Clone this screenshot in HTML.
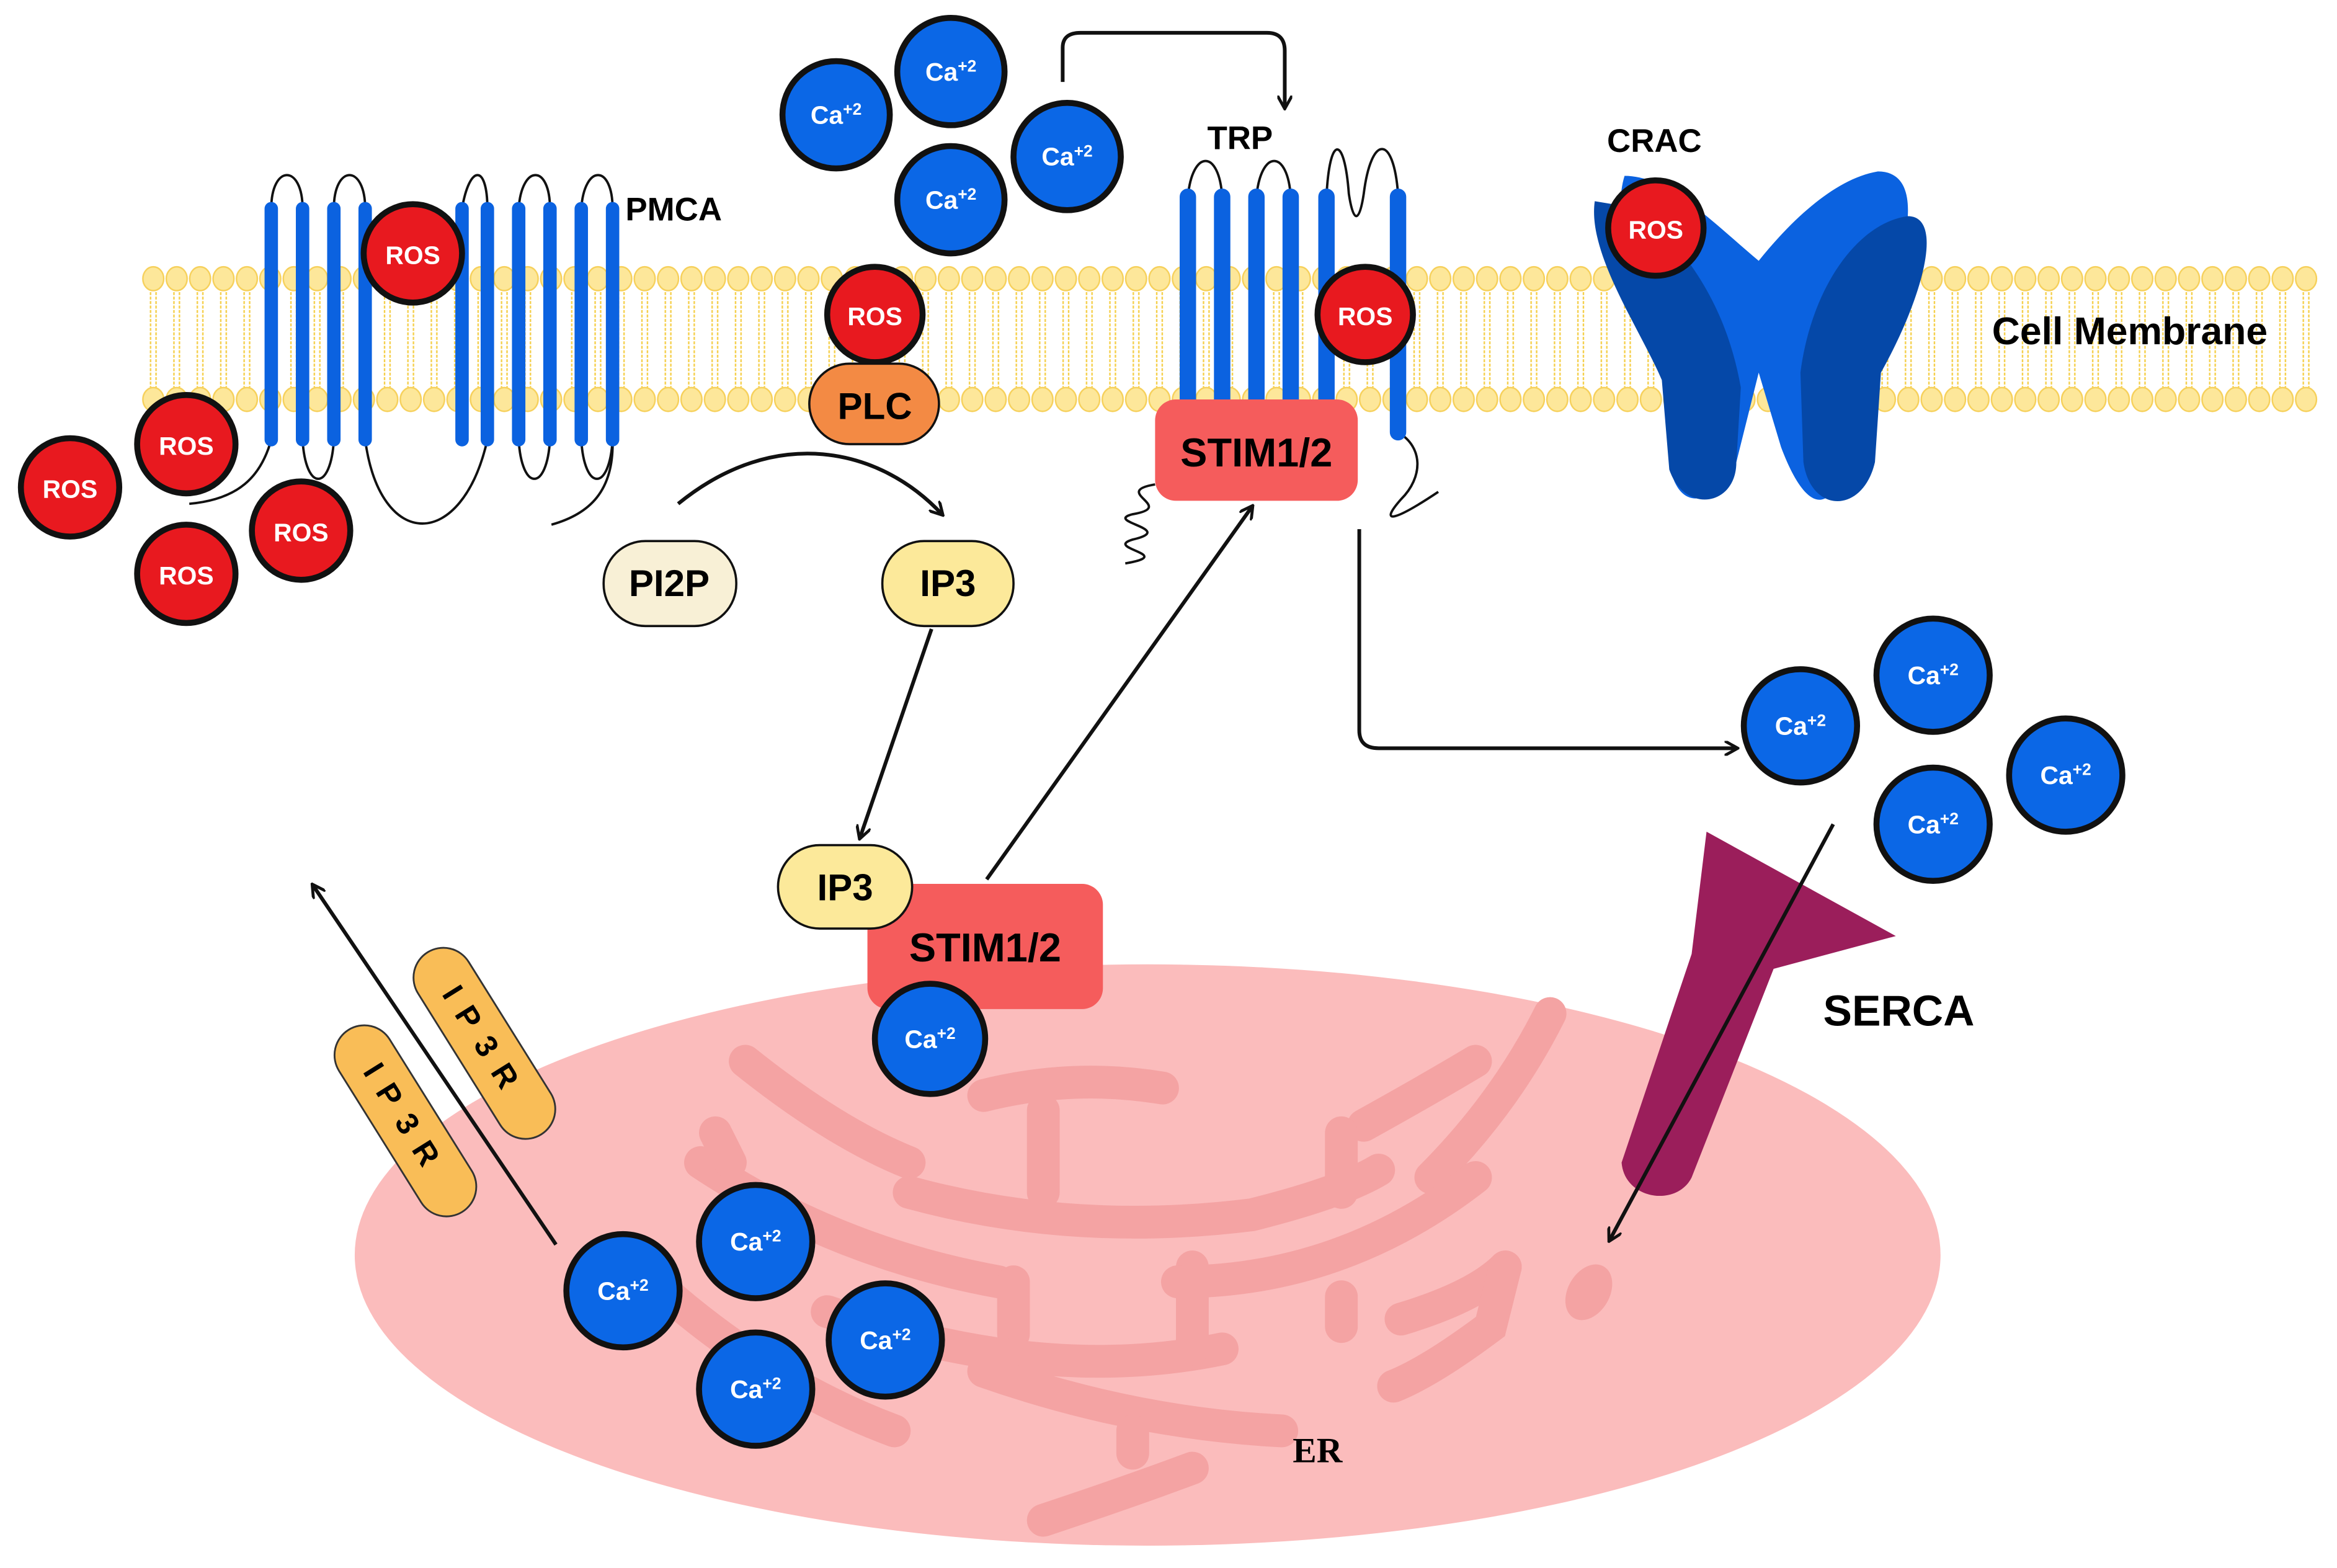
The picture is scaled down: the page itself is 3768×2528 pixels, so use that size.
<!DOCTYPE html>
<html><head><meta charset="utf-8"><style>
html,body{margin:0;padding:0;background:#fff;width:3768px;height:2528px;overflow:hidden}
svg{display:block}
text{font-family:"Liberation Sans",sans-serif;font-weight:bold}
</style></head><body>
<svg width="3768" height="2528" viewBox="0 0 1568 1052" xmlns="http://www.w3.org/2000/svg">
<defs>
<pattern id="mem" x="95" y="175" width="15.7" height="105" patternUnits="userSpaceOnUse">
<line x1="6" y1="18" x2="6" y2="86" stroke="#f5cf4a" stroke-width="1" stroke-dasharray="2 1"/>
<line x1="9.7" y1="18" x2="9.7" y2="86" stroke="#f5cf4a" stroke-width="1" stroke-dasharray="2 1"/>
<ellipse cx="7.85" cy="12" rx="7" ry="8" fill="#fde79a" stroke="#f6d05a" stroke-width="1"/>
<ellipse cx="7.85" cy="93" rx="7" ry="8" fill="#fde79a" stroke="#f6d05a" stroke-width="1"/>
</pattern>
<marker id="ah" markerWidth="10" markerHeight="10" refX="8" refY="5" orient="auto" markerUnits="userSpaceOnUse"><path d="M0,0 L9,5 L0,10" fill="none" stroke="#111" stroke-width="2"/></marker>
</defs>
<rect width="1568" height="1052" fill="#fff"/>
<rect x="95" y="175" width="1460" height="105" fill="url(#mem)"/>

<!-- ER -->
<ellipse cx="770" cy="842" rx="532" ry="195" fill="#fbbcbc"/>
<g stroke="#f4a3a3" stroke-linecap="round" fill="none" stroke-width="22">
<path d="M500,712 Q560,760 610,780"/>
<path d="M660,735 Q720,720 780,730"/>
<path d="M700,745 L700,800"/>
<path d="M610,800 Q720,830 840,815 Q900,800 925,785"/>
<path d="M915,755 Q960,730 990,712"/>
<path d="M900,760 L900,800"/>
<path d="M1040,680 Q1010,740 960,790"/>
<path d="M470,780 Q560,840 670,860"/>
<path d="M680,860 L680,895"/>
<path d="M555,880 Q700,930 820,905"/>
<path d="M800,850 L800,905"/>
<path d="M790,860 Q900,860 990,790"/>
<path d="M900,890 L900,870"/>
<path d="M940,885 Q990,870 1010,850"/>
<path d="M1010,850 L1000,890 Q960,920 935,930"/>
<path d="M660,920 Q760,955 860,960"/>
<path d="M760,960 L760,975"/>
<path d="M700,1020 Q760,1000 800,985"/>
<path d="M450,870 Q520,930 600,960"/>
<path d="M480,760 L490,780"/>
</g>
<ellipse cx="1066" cy="867" rx="14" ry="20" transform="rotate(30 1066 867)" fill="#f4a3a3"/>
<text x="884" y="981" font-size="24" text-anchor="middle" style="font-family:'Liberation Serif',serif">ER</text>

<!-- PMCA loops -->
<g fill="none" stroke="#111" stroke-width="1.6">
<path d="M182,140 C182,110 203,110 203,140"/>
<path d="M224,140 C224,110 245,110 245,140"/>
<path d="M310,140 C315,110 327,110 327,140"/>
<path d="M348,140 C350,110 369,110 369,140"/>
<path d="M390,140 C392,110 411,110 411,140"/>
<path d="M203,295 C205,330 222,330 224,295"/>
<path d="M245,295 C255,370 310,370 327,295"/>
<path d="M348,295 C350,330 367,330 369,295"/>
<path d="M390,295 C392,330 409,330 411,295"/>
<path d="M182,295 C175,320 160,335 127,338"/>
<path d="M411,295 C412,330 395,345 370,352"/>
</g>
<g stroke="#0b62e0" stroke-width="9" stroke-linecap="round">
<line x1="182" y1="140" x2="182" y2="295"/><line x1="203" y1="140" x2="203" y2="295"/>
<line x1="224" y1="140" x2="224" y2="295"/><line x1="245" y1="140" x2="245" y2="295"/>
<line x1="310" y1="140" x2="310" y2="295"/>
<line x1="327" y1="140" x2="327" y2="295"/><line x1="348" y1="140" x2="348" y2="295"/>
<line x1="369" y1="140" x2="369" y2="295"/><line x1="390" y1="140" x2="390" y2="295"/>
<line x1="411" y1="140" x2="411" y2="295"/>
</g>
<text x="452" y="148" font-size="22" text-anchor="middle">PMCA</text>

<!-- TRP -->
<g fill="none" stroke="#111" stroke-width="1.6">
<path d="M797,132 C800,100 818,100 820,132"/>
<path d="M843,132 C846,100 864,100 866,132"/>
<path d="M890,132 C892,90 902,90 905,130 C908,150 912,150 915,130 C920,90 935,90 938,130"/>
<path d="M938,290 C955,300 955,320 940,335 C925,352 935,350 965,330"/>
<path d="M775,325 C745,330 790,340 760,345 C740,350 790,355 760,362 C740,368 790,372 755,378"/>
</g>
<g stroke="#0b62e0" stroke-width="11" stroke-linecap="round">
<line x1="797" y1="132" x2="797" y2="285"/><line x1="820" y1="132" x2="820" y2="285"/>
<line x1="843" y1="132" x2="843" y2="285"/><line x1="866" y1="132" x2="866" y2="285"/>
<line x1="890" y1="132" x2="890" y2="285"/><line x1="938" y1="132" x2="938" y2="290"/>
</g>
<text x="832" y="100" font-size="22" text-anchor="middle">TRP</text>

<!-- CRAC -->
<path d="M1090,118 C1120,118 1150,150 1180,175 C1200,150 1230,120 1260,115 C1290,115 1282,160 1265,200 L1240,245 L1235,320 C1225,345 1210,340 1195,300 L1180,250 L1165,310 C1150,340 1125,345 1120,310 L1118,250 C1100,200 1080,150 1090,118Z" fill="#0b62e0"/>
<path d="M1070,135 C1065,170 1100,220 1115,255 L1120,315 C1130,345 1165,340 1165,310 L1168,260 C1160,215 1140,175 1100,140 Z" fill="#0548a8"/>
<path d="M1280,145 C1305,145 1290,200 1262,250 L1258,310 C1250,345 1215,345 1210,310 L1208,250 C1215,195 1245,150 1280,145Z" fill="#0548a8"/>
<text x="1110" y="102" font-size="22" text-anchor="middle">CRAC</text>

<rect x="775" y="268" width="136" height="68" rx="14" fill="#f55c5c"/>
<text x="843" y="313" font-size="27" text-anchor="middle">STIM1/2</text>

<!-- ROS -->
<g stroke="#111" stroke-width="4" fill="#e8191f">
<circle cx="277" cy="170" r="33"/><circle cx="587" cy="211" r="32"/>
<circle cx="916" cy="211" r="32"/><circle cx="1111" cy="153" r="32"/>
<circle cx="125" cy="298" r="33"/><circle cx="47" cy="327" r="33"/>
<circle cx="202" cy="356" r="33"/><circle cx="125" cy="385" r="33"/>
</g>
<g fill="#fff" font-size="17" text-anchor="middle">
<text x="277" y="177">ROS</text><text x="587" y="218">ROS</text>
<text x="916" y="218">ROS</text><text x="1111" y="160">ROS</text>
<text x="125" y="305">ROS</text><text x="47" y="334">ROS</text>
<text x="202" y="363">ROS</text><text x="125" y="392">ROS</text>
</g>

<rect x="543" y="244" width="87" height="54" rx="27" fill="#f38a44" stroke="#111" stroke-width="1.5"/>
<text x="587" y="281" font-size="25" text-anchor="middle">PLC</text>
<text x="1429" y="231" font-size="26" text-anchor="middle">Cell Membrane</text>

<rect x="405" y="363" width="89" height="57" rx="28" fill="#f8f0d6" stroke="#111" stroke-width="1.5"/>
<text x="449" y="400" font-size="25" text-anchor="middle">PI2P</text>
<rect x="592" y="363" width="88" height="57" rx="28" fill="#fce99a" stroke="#111" stroke-width="1.5"/>
<text x="636" y="400" font-size="25" text-anchor="middle">IP3</text>

<g fill="none" stroke="#111" stroke-width="2.5" marker-end="url(#ah)">
<path d="M455,338 C520,285 590,300 632,345"/>
<path d="M625,422 L577,562"/>
<path d="M662,590 L840,340"/>
<path d="M912,355 L912,490 Q912,502 925,502 L1165,502"/>
<path d="M713,55 L713,32 Q713,22 725,22 L850,22 Q862,22 862,34 L862,72"/>
<path d="M373,835 L210,594"/>
</g>

<!-- SERCA -->
<path d="M1145,558 L1272,628 L1190,650 L1135,790 C1125,810 1090,805 1088,780 L1135,640 Z" fill="#9b1e5b"/>
<line x1="1230" y1="553" x2="1080" y2="832" stroke="#111" stroke-width="2.5" marker-end="url(#ah)"/>
<text x="1274" y="688" font-size="29" text-anchor="middle">SERCA</text>

<!-- IP3R -->
<g transform="translate(272,752) rotate(-32)">
<rect x="-20" y="-72" width="40" height="144" rx="20" fill="#f9bd57" stroke="#333" stroke-width="1.2"/>
<text transform="rotate(90)" x="0" y="7" font-size="21" text-anchor="middle" letter-spacing="10">IP3R</text>
</g>
<g transform="translate(325,700) rotate(-32)">
<rect x="-20" y="-72" width="40" height="144" rx="20" fill="#f9bd57" stroke="#333" stroke-width="1.2"/>
<text transform="rotate(90)" x="0" y="7" font-size="21" text-anchor="middle" letter-spacing="10">IP3R</text>
</g>

<rect x="582" y="593" width="158" height="84" rx="14" fill="#f55c5c"/>
<text x="661" y="645" font-size="27" text-anchor="middle">STIM1/2</text>
<rect x="522" y="567" width="90" height="56" rx="28" fill="#fce99a" stroke="#111" stroke-width="1.5"/>
<text x="567" y="604" font-size="25" text-anchor="middle">IP3</text>

<g stroke="#111" stroke-width="4" fill="#0b67e6">
<circle cx="561" cy="77" r="36"/><circle cx="638" cy="48" r="36"/>
<circle cx="638" cy="134" r="36"/><circle cx="716" cy="105" r="36"/>
<circle cx="1208" cy="487" r="38"/><circle cx="1297" cy="453" r="38"/>
<circle cx="1297" cy="553" r="38"/><circle cx="1386" cy="520" r="38"/>
<circle cx="624" cy="697" r="37"/>
<circle cx="418" cy="866" r="38"/><circle cx="507" cy="833" r="38"/>
<circle cx="507" cy="932" r="38"/><circle cx="594" cy="899" r="38"/>
</g>
<g fill="#fff" font-size="17" text-anchor="middle">
<text x="561" y="83">Ca<tspan font-size="11" dy="-6">+2</tspan></text>
<text x="638" y="54">Ca<tspan font-size="11" dy="-6">+2</tspan></text>
<text x="638" y="140">Ca<tspan font-size="11" dy="-6">+2</tspan></text>
<text x="716" y="111">Ca<tspan font-size="11" dy="-6">+2</tspan></text>
<text x="1208" y="493">Ca<tspan font-size="11" dy="-6">+2</tspan></text>
<text x="1297" y="459">Ca<tspan font-size="11" dy="-6">+2</tspan></text>
<text x="1297" y="559">Ca<tspan font-size="11" dy="-6">+2</tspan></text>
<text x="1386" y="526">Ca<tspan font-size="11" dy="-6">+2</tspan></text>
<text x="624" y="703">Ca<tspan font-size="11" dy="-6">+2</tspan></text>
<text x="418" y="872">Ca<tspan font-size="11" dy="-6">+2</tspan></text>
<text x="507" y="839">Ca<tspan font-size="11" dy="-6">+2</tspan></text>
<text x="507" y="938">Ca<tspan font-size="11" dy="-6">+2</tspan></text>
<text x="594" y="905">Ca<tspan font-size="11" dy="-6">+2</tspan></text>
</g>
</svg>
</body></html>
